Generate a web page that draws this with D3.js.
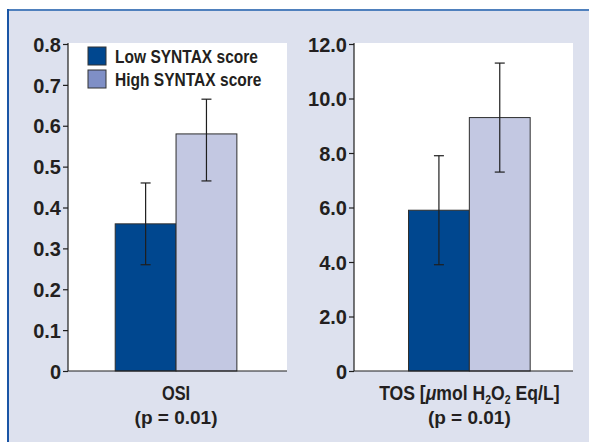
<!DOCTYPE html>
<html>
<head>
<meta charset="utf-8">
<script src="https://cdn.jsdelivr.net/npm/d3@7"></script>
<style>
  body { margin: 0; background: #fff; }
  svg { display: block; }
</style>
</head>
<body>
<svg id="chart"></svg>
<script>
// --------------------
// Data
// --------------------
const groups = ["Low SYNTAX score", "High SYNTAX score"];
const groupColors = ["#00478f", "#c3c8e2"];
const legendColors = ["#00478f", "#7f8fc6"];

const osiMean = [0.36, 0.58];
const osiErrLow = [0.26, 0.465];
const osiErrHigh = [0.46, 0.665];
const osiTicks = [0, 0.1, 0.2, 0.3, 0.4, 0.5, 0.6, 0.7, 0.8];

const tosMean = [5.9, 9.3];
const tosErrLow = [3.9, 7.3];
const tosErrHigh = [7.9, 11.3];
const tosTicks = [0, 2, 4, 6, 8, 10, 12];

// --------------------
// Basic setup
// --------------------
const width = 589;
const height = 442;

const svg = d3.select("#chart")
  .attr("width", width)
  .attr("height", height);

// no narrow font installed -> squeeze Liberation Sans horizontally
const font = "'Liberation Sans', Arial, Helvetica, sans-serif";
const ink = "#231f20";

// background panel with blue border top + left
svg.append("rect")
  .attr("x", 8).attr("y", 10)
  .attr("width", width - 8).attr("height", height - 10)
  .attr("fill", "#dde1ee");
svg.append("line")
  .attr("x1", 8).attr("x2", width).attr("y1", 10).attr("y2", 10)
  .attr("stroke", "#4f80bd").attr("stroke-width", 2);
svg.append("line")
  .attr("x1", 8).attr("x2", 8).attr("y1", 9).attr("y2", height)
  .attr("stroke", "#1a55a5").attr("stroke-width", 2);

// condensed text helper
function narrowText(x, y, size, anchor, squeeze) {
  return svg.append("g")
    .attr("transform", `translate(${x},${y}) scale(${squeeze || 0.82},1)`)
    .append("text")
      .attr("text-anchor", anchor || "start")
      .attr("font-family", font)
      .attr("font-weight", "bold")
      .attr("font-size", size)
      .attr("fill", ink);
}

// --------------------
// One panel of bars
// --------------------
function drawPanel(opts) {
  const { x0, x1, top, bottom, means, lo, hi, ticks, maxY, fmt, align } = opts;

  const g = svg.append("g");

  g.append("rect")
    .attr("x", x0).attr("y", top)
    .attr("width", x1 - x0).attr("height", bottom - top)
    .attr("fill", "#fff");

  const y = d3.scaleLinear().domain([0, maxY]).range([bottom, top + 1]);

  const xOuter = d3.scaleBand()
    .domain(["all"])
    .range([x0, x1])
    .paddingOuter(0.4)
    .align(align);

  const xInner = d3.scaleBand()
    .domain(groups)
    .range([xOuter("all"), xOuter("all") + xOuter.bandwidth()]);

  const data = groups.map((k, i) => ({ key: k, mean: means[i], lo: lo[i], hi: hi[i], color: groupColors[i] }));

  g.selectAll("rect.bar")
    .data(data)
    .join("rect")
      .attr("class", "bar")
      .attr("x", d => xInner(d.key))
      .attr("width", xInner.bandwidth())
      .attr("y", d => y(d.mean))
      .attr("height", d => y(0) - y(d.mean))
      .attr("fill", d => d.color)
      .attr("stroke", "#2e2e2e")
      .attr("stroke-width", 1);

  // error bars
  const cx = d => xInner(d.key) + xInner.bandwidth() / 2;
  const cap = 5;
  const err = g.selectAll("g.err")
    .data(data)
    .join("g")
      .attr("class", "err")
      .attr("stroke", "#1e1e1e")
      .attr("stroke-width", 1.2);
  err.append("line")
    .attr("x1", cx).attr("x2", cx)
    .attr("y1", d => y(d.lo)).attr("y2", d => y(d.hi));
  err.append("line")
    .attr("x1", d => cx(d) - cap).attr("x2", d => cx(d) + cap)
    .attr("y1", d => y(d.hi)).attr("y2", d => y(d.hi));
  err.append("line")
    .attr("x1", d => cx(d) - cap).attr("x2", d => cx(d) + cap)
    .attr("y1", d => y(d.lo)).attr("y2", d => y(d.lo));

  // x baseline
  g.append("line")
    .attr("x1", x0).attr("x2", x1)
    .attr("y1", bottom).attr("y2", bottom)
    .attr("stroke", "#1e1e1e").attr("stroke-width", 1.2);

  // y axis
  const axis = g.append("g")
    .attr("transform", `translate(${x0},0)`)
    .call(d3.axisLeft(y).tickValues(ticks).tickFormat(fmt).tickSize(5).tickSizeOuter(0).tickPadding(2));
  axis.select(".domain")
    .attr("d", `M0,${top}V${bottom}`)
    .attr("stroke", "#1e1e1e").attr("stroke-width", 1.2);
  axis.selectAll(".tick line").attr("stroke", "#1e1e1e").attr("stroke-width", 1.2);
  axis.selectAll(".tick text")
    .attr("fill", ink)
    .attr("font-family", font)
    .attr("font-weight", "bold")
    .attr("font-size", 20)
    .attr("dy", "0.36em");

  return { center: xOuter("all") + xOuter.bandwidth() / 2 };
}

const left = drawPanel({
  x0: 68, x1: 287, top: 43, bottom: 371,
  means: osiMean, lo: osiErrLow, hi: osiErrHigh,
  ticks: osiTicks, maxY: 0.8, align: 0.485,
  fmt: d => d === 0 ? "0" : d.toFixed(1)
});

const right = drawPanel({
  x0: 354, x1: 573, top: 43, bottom: 371,
  means: tosMean, lo: tosErrLow, hi: tosErrHigh,
  ticks: tosTicks, maxY: 12, align: 0.56,
  fmt: d => d === 0 ? "0" : d.toFixed(1)
});

// --------------------
// Legend
// --------------------
const legend = svg.append("g").attr("transform", "translate(88,47)");
groups.forEach((k, i) => {
  legend.append("rect")
    .attr("x", 0).attr("y", i * 23)
    .attr("width", 18).attr("height", 18)
    .attr("fill", legendColors[i])
    .attr("stroke", "#333").attr("stroke-width", 1);
  narrowText(115, 47 + i * 23 + 16, 18.5, "start", 0.84).text(k);
});

// --------------------
// Category labels
// --------------------
function pLabel(x, yPos) {
  return svg.append("text")
    .attr("x", x).attr("y", yPos)
    .attr("text-anchor", "middle")
    .attr("font-family", font)
    .attr("font-weight", "bold")
    .attr("font-size", 19)
    .attr("fill", ink);
}

narrowText(left.center, 400, 20, "middle", 0.82).text("OSI");
pLabel(left.center, 424).text("(p = 0.01)");

const tos = narrowText(right.center, 400, 20, "middle", 0.88);
tos.append("tspan").text("TOS [");
tos.append("tspan").attr("font-style", "italic").text("\u03bc");
tos.append("tspan").text("mol H");
tos.append("tspan").attr("font-size", 12).attr("dy", 4).text("2");
tos.append("tspan").attr("dy", -4).text("O");
tos.append("tspan").attr("font-size", 12).attr("dy", 4).text("2");
tos.append("tspan").attr("dy", -4).text(" Eq/L]");
pLabel(right.center, 424).text("(p = 0.01)");
</script>
</body>
</html>
